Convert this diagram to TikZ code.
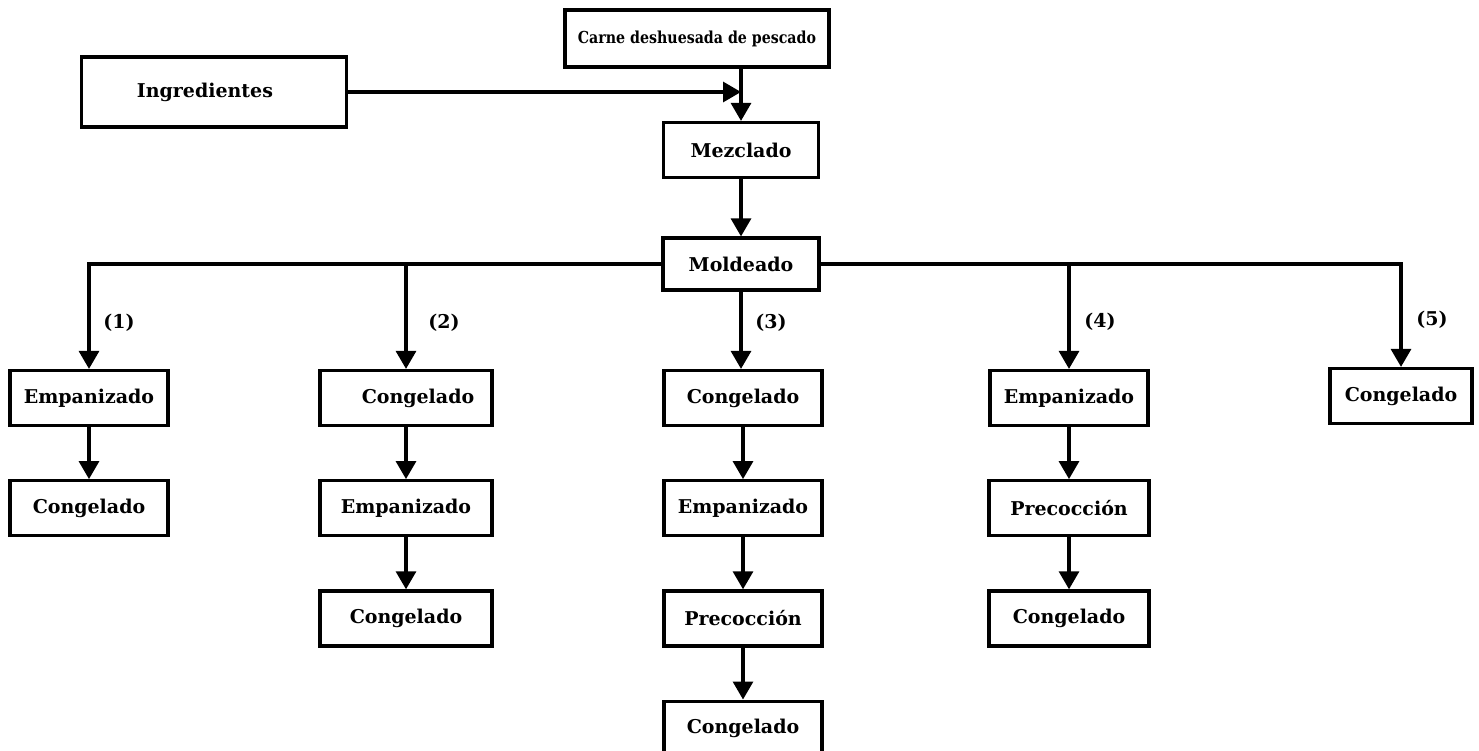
\documentclass[tikz,border=0pt]{standalone}
\usepackage{fontspec}
\setmainfont{DejaVu Serif}
\newfontfamily\narrowserif[FakeStretch=0.86]{DejaVu Serif}
\usepackage{tikz}
\usetikzlibrary{positioning,arrows.meta}

\begin{document}
\begin{tikzpicture}[x=1pt,y=-1pt,node distance=52pt,>={Triangle[width=20pt,length=18pt]},
    box/.style={draw,line width=3.2pt,minimum height=55pt,minimum width=158pt,font=\fontsize{19}{22}\selectfont\bfseries},
    flow/.style={->,line width=3.2pt},
    lbl/.style={font=\fontsize{19}{22}\selectfont\bfseries}]
    \useasboundingbox (0,0) rectangle (1479,751);
    \node[box,minimum width=264pt,minimum height=57pt,font=\narrowserif\fontsize{16.5}{19}\selectfont\bfseries] (carne) at (697,38.5) {Carne deshuesada de pescado};
    \node[box,minimum width=265pt,minimum height=70pt] (ingr) at (214,92) {Ingredientes\hspace*{18pt}};
    \node[box,minimum width=155pt] (mezcla) at (741,150) {Mezclado};
    \node[box,minimum width=156pt,minimum height=52pt] (molde) at (741,264) {Moldeado};
    % primera fila
    \node[box] (emp1) at (89,398) {Empanizado};
    \node[box,minimum width=172pt] (cong2) at (406,398) {\hspace*{24pt}Congelado};
    \node[box] (cong3) at (743,398) {Congelado};
    \node[box] (emp4) at (1069,398) {Empanizado};
    \node[box,minimum width=142pt] (cong5) at (1401,396) {Congelado};
    % cadenas
    \node[box,below=of emp1] (cong1b) {Congelado};
    \node[box,minimum width=172pt,below=of cong2] (emp2) {Empanizado};
    \node[box,minimum width=172pt,below=of emp2] (cong2b) {Congelado};
    \node[box,below=of cong3] (emp3) {Empanizado};
    \node[box,below=of emp3] (prec3) {Precocción};
    \node[box,below=of prec3] (cong3b) {Congelado};
    \node[box,minimum width=160pt,below=of emp4] (prec4) {Precocción};
    \node[box,minimum width=160pt,below=of prec4] (cong4b) {Congelado};
    % numeros
    \node[lbl] (n1) at (119,323) {(1)};
    \node[lbl] (n2) at (444,323) {(2)};
    \node[lbl] (n3) at (771,323) {(3)};
    \node[lbl] (n4) at (1100,322) {(4)};
    \node[lbl] (n5) at (1432,320) {(5)};
    \coordinate (join) at (mezcla.north |- ingr.east);
    \draw[flow] (ingr.east) -- (join);
    \draw[flow] (carne.south -| mezcla.north) -- (mezcla.north);
    \draw[flow] (mezcla) -- (molde);
    \draw[flow] (molde.west) -| (emp1.north);
    \draw[flow] (molde.east) -| (cong5.north);
    \draw[flow] (cong2.north |- molde.west) -- (cong2.north);
    \draw[flow] (emp4.north |- molde.east) -- (emp4.north);
    \draw[flow] (molde.south) -- (cong3.north -| molde.south);
    \draw[flow] (emp1) -- (cong1b);
    \draw[flow] (cong2) -- (emp2);
    \draw[flow] (emp2) -- (cong2b);
    \draw[flow] (cong3) -- (emp3);
    \draw[flow] (emp3) -- (prec3);
    \draw[flow] (prec3) -- (cong3b);
    \draw[flow] (emp4) -- (prec4);
    \draw[flow] (prec4) -- (cong4b);
\end{tikzpicture}
\end{document}
